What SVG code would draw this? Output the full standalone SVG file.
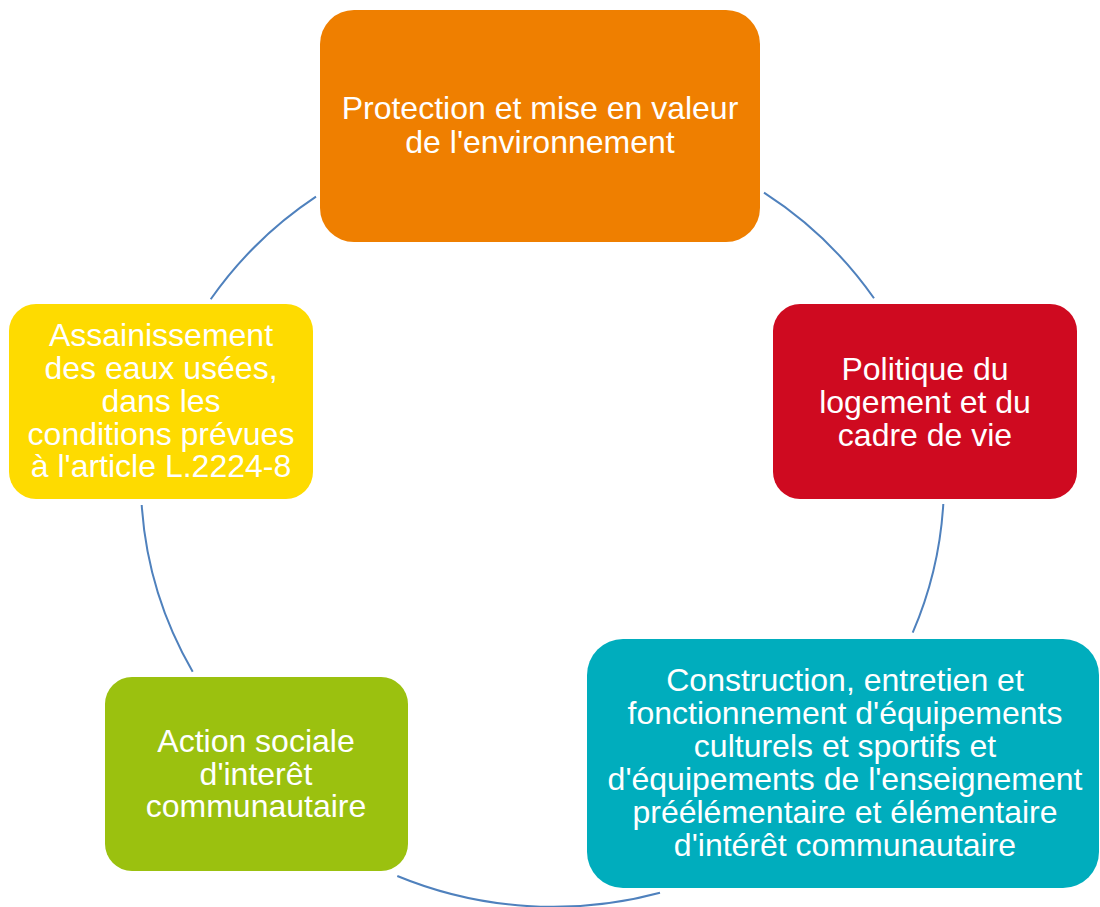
<svg xmlns="http://www.w3.org/2000/svg" width="1100" height="907" viewBox="0 0 1100 907">
<style>
.t{font-family:"Liberation Sans",Arial,sans-serif;font-size:32px;fill:#ffffff;text-anchor:middle}
.c{fill:none;stroke:#4f81bd;stroke-width:2}
</style>
<rect width="1100" height="907" fill="#ffffff"/>
<g id="connectors">
<path class="c" d="M764 192.7 A400 390 0 0 1 874 298.3"/>
<path class="c" d="M943.3 504 A400 390 0 0 1 912.7 632.7"/>
<path class="c" d="M660 892.7 A400 390 0 0 1 397.3 876"/>
<path class="c" d="M192.7 671.7 A400 390 0 0 1 141.7 505"/>
<path class="c" d="M210.7 299.3 A400 390 0 0 1 316 196.7"/>
</g>
<g id="node-environnement">
<rect x="320" y="10" width="440" height="232" rx="34" fill="#ef7f00"/>
<text class="t" x="540" y="119">Protection et mise en valeur</text>
<text class="t" x="540" y="153">de l'environnement</text>
</g>
<g id="node-logement">
<rect x="773" y="304" width="304" height="195" rx="27" fill="#cf0a20"/>
<text class="t" x="925" y="380">Politique du</text>
<text class="t" x="925" y="413">logement et du</text>
<text class="t" x="925" y="446">cadre de vie</text>
</g>
<g id="node-equipements">
<rect x="587" y="639" width="512" height="249" rx="36" fill="#00adbd"/>
<text class="t" x="845" y="691">Construction, entretien et</text>
<text class="t" x="845" y="724">fonctionnement d'équipements</text>
<text class="t" x="845" y="757">culturels et sportifs et</text>
<text class="t" x="845" y="790">d'équipements de l'enseignement</text>
<text class="t" x="845" y="823">préélémentaire et élémentaire</text>
<text class="t" x="845" y="856">d'intérêt communautaire</text>
</g>
<g id="node-action-sociale">
<rect x="105" y="677" width="303" height="194" rx="27" fill="#9bc10f"/>
<text class="t" x="256" y="752">Action sociale</text>
<text class="t" x="256" y="785">d'interêt</text>
<text class="t" x="256" y="817">communautaire</text>
</g>
<g id="node-assainissement">
<rect x="9" y="304" width="304" height="195" rx="27" fill="#fedb00"/>
<text class="t" x="161" y="346">Assainissement</text>
<text class="t" x="161" y="379">des eaux usées,</text>
<text class="t" x="161" y="412">dans les</text>
<text class="t" x="161" y="445">conditions prévues</text>
<text class="t" x="161" y="477">à l'article L.2224-8</text>
</g>
</svg>
